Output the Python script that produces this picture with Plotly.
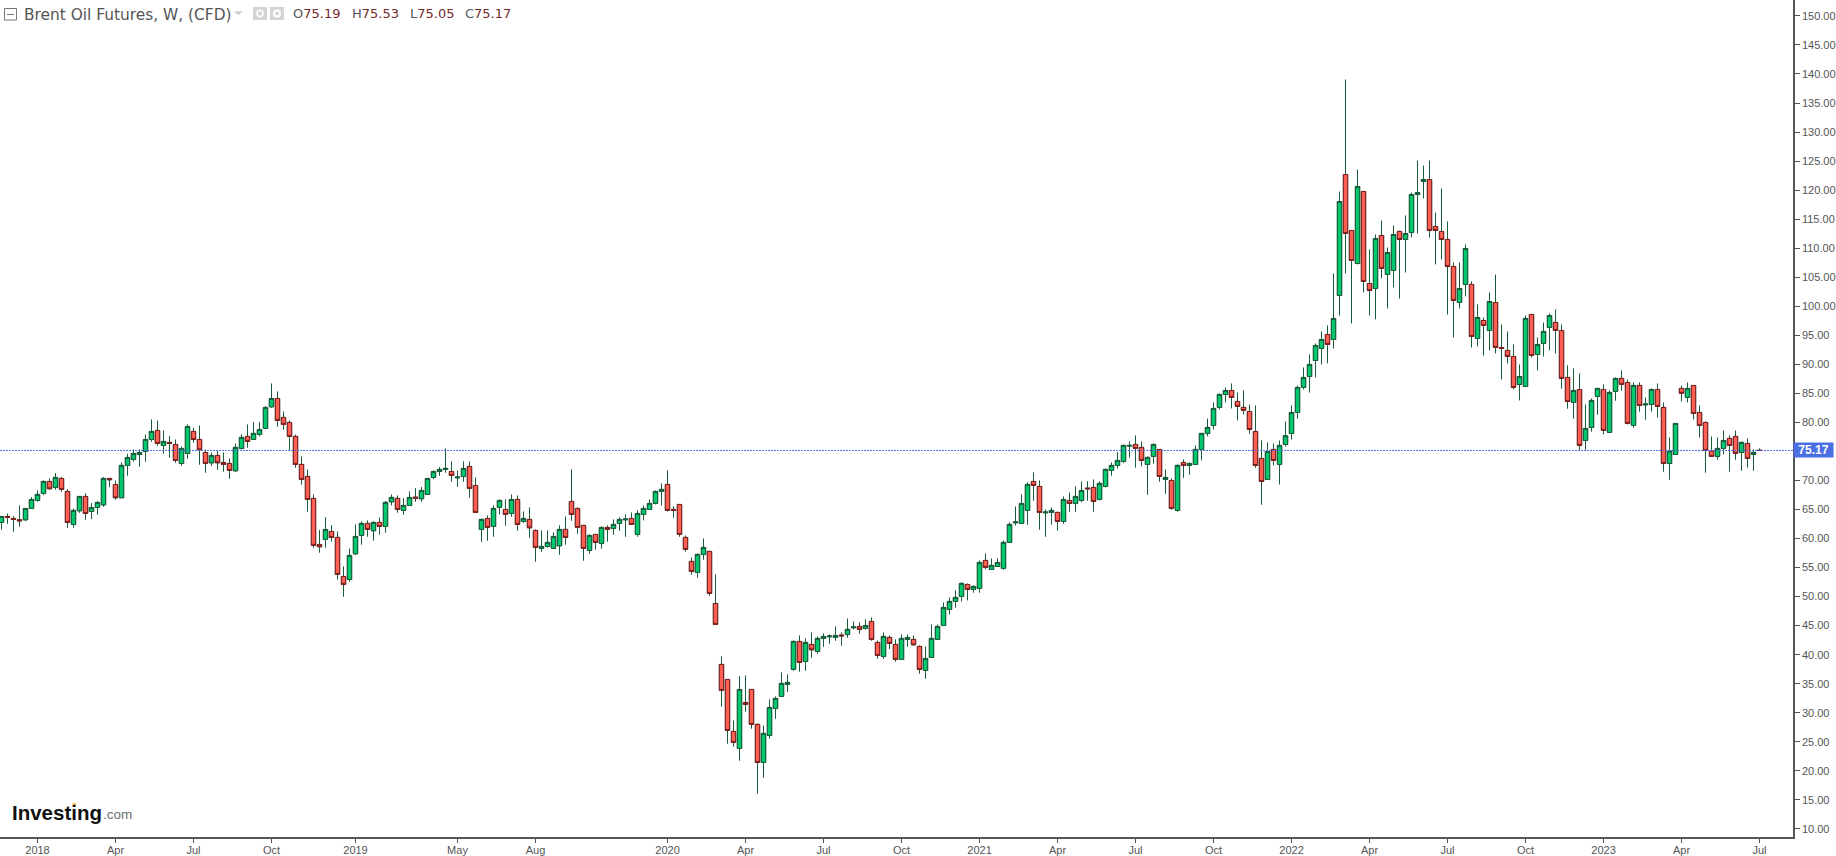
import pandas as pd
import plotly.graph_objects as go

start_week = "2017-11-19"

opens = [
    62.77,63.80,63.46,63.23,63.23,65.18,66.56,67.76,69.83,68.80,
    70.35,68.11,62.43,64.78,67.25,64.66,65.35,65.81,70.35,69.31,
    67.02,72.59,73.62,74.48,75.00,77.06,78.61,76.03,76.55,76.20,
    72.93,74.65,78.44,77.06,74.82,73.04,74.31,73.10,72.93,71.67,
    75.51,77.58,77.06,77.92,78.96,82.69,84.12,80.85,79.99,77.58,
    72.76,70.69,66.90,58.98,59.84,61.22,60.19,53.47,52.95,57.37,
    60.53,62.60,61.34,62.77,62.08,66.33,66.91,64.84,65.70,67.13,
    66.85,67.59,70.52,71.55,71.90,71.55,70.46,70.69,72.42,69.14,
    61.57,63.46,62.08,65.36,65.01,64.32,66.73,62.94,63.29,61.39,
    58.30,58.64,58.30,58.75,61.57,66.39,65.18,62.26,57.95,60.71,
    59.16,61.91,61.74,62.60,63.23,63.46,60.71,64.15,65.01,66.04,
    68.11,69.32,65.01,65.87,60.19,56.06,54.16,57.26,57.78,48.82,
    38.32,35.73,26.78,23.85,31.77,34.01,27.99,21.44,26.09,30.74,
    32.81,34.87,37.46,42.28,38.83,41.76,40.56,42.80,43.08,42.97,
    43.37,43.48,44.63,44.86,44.52,45.72,42.11,39.70,42.97,41.76,
    39.18,42.62,42.62,41.42,37.28,39.52,42.62,45.03,47.79,49.17,
    50.03,52.09,51.23,51.41,56.23,54.68,55.19,54.85,59.33,62.71,
    62.60,64.84,69.83,68.97,64.43,64.49,64.49,62.94,66.56,66.04,
    66.56,68.68,68.80,66.73,68.97,71.73,72.59,73.28,75.92,76.20,
    75.69,72.76,74.14,75.34,70.18,70.00,64.84,73.10,72.59,72.76,
    75.34,78.10,79.48,82.58,84.81,85.50,83.61,82.58,81.88,78.44,
    73.79,70.17,75.34,72.76,76.20,78.09,81.71,86.02,87.91,90.66,
    92.73,95.14,94.28,101.86,122.69,113.05,107.37,119.77,103.92,103.06,
    112.19,105.47,106.16,112.88,111.50,112.71,119.25,121.49,121.83,113.74,
    112.88,111.50,106.85,100.65,103.75,103.75,94.45,97.55,95.83,100.65,
    92.90,92.39,91.35,86.53,86.19,98.59,91.70,93.59,96.35,97.21,
    95.83,87.74,83.44,85.67,76.89,79.13,84.47,85.67,78.27,85.33,
    87.57,86.88,79.48,86.36,83.03,83.09,85.67,82.58,72.93,74.48,
    85.85,84.30,86.36,81.71,79.99,75.06,74.14,75.52,77.24,77.58,
    74.83,76.38,74.48,75.19,
]
highs = [
    63.80,64.32,63.86,65.70,65.18,67.13,68.28,70.00,70.35,71.27,
    70.58,68.51,65.18,67.25,67.82,66.10,66.44,70.58,70.35,70.00,
    73.10,74.59,75.34,75.34,77.92,80.51,80.33,78.61,77.64,77.06,
    75.86,79.65,79.07,79.47,75.34,74.82,75.17,74.82,73.79,76.37,
    77.92,79.65,80.05,80.05,82.80,86.71,85.33,81.88,80.33,77.92,
    74.14,71.90,67.59,61.45,63.69,62.31,61.22,55.19,58.29,62.43,
    62.94,63.12,63.00,63.63,66.45,67.59,67.42,66.96,68.11,68.68,
    68.86,70.35,71.73,72.30,75.52,73.28,71.73,73.28,73.28,70.52,
    63.46,63.98,65.70,66.73,66.73,67.59,67.42,64.67,65.36,61.57,
    61.39,61.39,61.05,62.26,63.81,71.90,65.36,62.26,60.71,60.71,
    62.08,62.26,63.29,63.63,64.15,64.49,64.84,65.70,66.73,68.28,
    69.49,71.73,65.53,65.87,60.53,56.75,57.43,60.02,57.78,53.82,
    39.70,35.73,28.67,36.31,36.42,34.01,28.16,27.81,32.29,32.81,
    36.94,36.60,42.45,43.31,42.80,43.83,43.14,43.66,43.48,44.86,
    43.83,46.24,45.72,45.55,46.07,46.41,42.45,43.83,43.31,42.62,
    43.48,43.48,43.31,41.59,41.42,45.21,45.21,48.99,49.86,51.06,
    52.44,52.27,51.92,56.23,57.43,56.57,56.57,59.67,62.77,65.53,
    67.59,69.66,71.38,70.00,65.01,65.36,64.67,67.25,67.94,68.97,
    69.83,69.89,70.18,69.83,72.07,73.10,74.88,76.20,76.72,77.75,
    76.72,74.14,76.38,75.34,71.90,70.35,72.76,73.62,73.10,76.03,
    78.10,80.68,83.44,84.99,86.02,86.71,85.16,85.50,83.09,82.92,
    76.89,76.54,76.37,76.89,80.16,82.92,86.36,89.46,91.70,93.59,
    95.66,96.69,105.65,119.77,139.05,113.05,123.55,119.77,109.78,112.36,
    114.77,110.12,113.91,113.05,115.63,119.59,125.10,124.24,125.10,116.15,
    120.28,114.60,107.54,107.54,110.64,104.27,100.31,98.07,102.37,105.47,
    96.86,95.66,93.42,89.98,98.41,98.59,94.63,97.21,98.76,99.45,
    96.87,89.81,89.29,88.43,83.09,84.13,85.85,86.54,85.50,87.74,
    88.95,87.40,86.88,86.88,84.30,85.85,86.71,83.44,77.41,79.82,
    86.36,86.88,86.36,82.92,80.17,77.58,77.41,78.61,77.75,78.61,
    76.72,77.24,75.34,75.53,
]
lows = [
    61.51,62.54,61.16,62.02,63.00,65.18,66.33,67.53,68.40,68.40,
    68.05,61.85,61.85,64.43,63.23,63.34,64.09,65.47,68.85,66.67,
    67.02,70.81,73.22,72.36,73.22,76.66,75.97,74.59,73.91,73.04,
    72.53,73.73,76.49,72.70,71.32,72.47,71.84,71.50,70.29,71.50,
    75.34,75.63,77.06,77.58,78.96,82.52,79.24,78.73,75.17,72.18,
    69.26,64.61,58.41,57.55,58.41,59.44,52.90,49.97,52.55,57.20,
    58.93,60.30,59.62,60.65,60.99,65.70,64.44,64.09,65.70,66.33,
    66.33,67.59,70.23,70.81,71.32,69.78,68.91,69.78,67.02,64.49,
    59.44,59.62,60.30,64.15,62.20,63.75,61.34,62.71,60.13,56.00,
    57.72,58.41,58.30,57.20,58.93,63.06,60.82,56.17,57.38,58.07,
    58.24,59.44,60.65,61.34,60.30,62.43,60.30,63.12,65.01,65.87,
    65.70,64.67,63.58,60.30,57.72,53.76,53.24,56.34,50.14,45.21,
    31.03,24.66,24.14,21.73,30.17,27.24,16.05,18.80,25.52,28.96,
    32.81,33.55,37.23,37.06,37.23,39.47,40.15,41.36,41.88,42.39,
    41.53,42.91,44.35,43.60,44.29,42.39,39.29,39.29,40.96,38.78,
    39.18,41.36,41.53,36.71,35.85,39.52,42.62,45.03,46.93,48.08,
    49.17,49.34,50.66,50.66,54.68,54.68,55.19,54.62,59.33,62.26,
    62.60,62.37,66.50,61.51,60.30,62.37,61.34,62.54,64.61,64.61,
    66.22,66.50,64.61,66.56,68.80,70.81,72.07,73.05,73.91,72.19,
    72.42,67.54,72.87,69.78,67.71,64.95,64.61,70.46,70.98,72.76,
    73.45,77.58,78.79,82.23,83.44,82.40,80.34,81.37,78.04,72.18,
    65.81,70.17,72.58,69.31,75.86,77.06,80.62,85.67,85.15,87.74,
    89.98,90.15,92.73,98.41,105.65,97.04,107.20,102.37,98.41,97.72,
    104.79,99.62,103.24,101.34,105.82,111.85,112.53,118.56,111.85,107.20,
    108.06,98.59,94.63,99.62,101.69,92.90,93.08,91.53,92.39,91.87,
    87.39,90.15,85.67,83.78,86.19,91.18,88.94,91.35,92.39,91.87,
    85.79,82.35,80.62,75.17,75.29,78.39,81.31,77.93,78.27,83.72,
    85.45,79.65,79.07,81.83,80.45,81.89,80.85,71.50,70.12,74.48,
    83.61,83.44,80.51,77.41,71.33,74.14,73.56,74.48,71.50,73.56,
    71.67,72.24,71.67,75.05,
]
closes = [
    63.80,63.63,63.29,63.06,65.18,66.73,67.59,69.83,68.57,70.52,
    68.45,62.77,64.84,67.25,64.32,65.35,66.21,70.35,70.12,67.02,
    72.59,73.96,74.65,74.82,77.06,78.44,76.37,76.72,76.37,73.45,
    75.51,79.30,77.06,75.28,72.93,74.31,73.04,72.76,71.72,75.69,
    77.41,76.72,78.10,78.78,82.57,84.12,80.33,79.65,77.58,72.76,
    70.17,66.73,58.81,58.58,61.56,60.19,53.82,52.09,57.09,60.36,
    62.60,61.57,62.77,62.08,66.22,67.08,65.01,65.70,67.08,66.91,
    68.28,70.35,71.55,71.90,72.07,70.87,70.58,72.07,68.63,64.49,
    63.29,61.91,65.18,66.56,64.15,66.73,62.43,63.46,61.85,58.47,
    58.64,59.33,60.36,61.57,60.19,64.15,61.91,58.30,60.53,59.33,
    61.91,61.57,62.43,63.29,63.35,62.43,64.32,65.18,66.04,68.11,
    68.46,64.84,64.84,60.71,58.12,54.33,57.26,58.47,50.54,45.21,
    33.84,26.95,24.89,34.01,31.43,27.99,21.44,26.44,30.91,32.46,
    35.05,35.22,42.28,38.66,42.11,40.84,42.80,43.14,43.20,43.31,
    43.25,44.35,44.75,44.35,45.03,42.62,39.87,43.14,41.93,39.18,
    42.80,42.97,41.70,37.46,39.35,42.80,44.86,48.13,49.17,49.86,
    52.27,51.23,51.75,55.88,55.02,55.37,55.88,59.33,62.43,62.83,
    66.04,69.32,69.14,64.49,64.55,64.84,62.94,66.73,66.04,67.25,
    68.28,68.57,66.39,69.49,71.90,72.59,73.45,76.03,76.03,75.52,
    73.45,73.97,76.20,70.69,70.52,65.18,72.59,72.59,72.93,75.34,
    78.10,79.13,82.40,84.81,85.50,84.30,82.75,82.06,78.78,72.58,
    69.83,74.99,73.44,76.03,77.69,81.71,86.02,87.74,89.98,93.25,
    94.28,93.42,97.90,118.04,112.53,107.88,120.63,104.27,102.72,111.67,
    106.51,109.26,112.36,111.50,112.53,119.25,119.59,121.83,113.05,113.05,
    111.50,106.85,101.00,103.06,109.95,94.80,98.07,96.69,100.82,92.90,
    92.73,91.35,86.02,87.91,97.90,91.53,93.42,95.66,98.41,95.83,
    87.57,83.61,85.50,76.03,78.96,83.78,85.85,78.61,85.16,87.57,
    86.54,79.82,86.36,82.92,83.15,85.67,82.75,72.93,75.06,79.82,
    84.99,85.85,81.54,79.48,75.17,74.14,75.52,76.89,76.03,74.65,
    76.55,73.79,74.83,75.17,
]

x_tick_dates = [
    "2017-12-31","2018-04-01","2018-07-01","2018-09-30","2019-01-06","2019-05-05","2019-08-04",
    "2020-01-05","2020-04-05","2020-07-05","2020-10-04","2021-01-03","2021-04-04","2021-07-04",
    "2021-10-03","2022-01-02","2022-04-03","2022-07-03","2022-10-02","2023-01-01","2023-04-02","2023-07-02",
]
x_tick_labels = [
    "2018","Apr","Jul","Oct","2019","May","Aug","2020","Apr","Jul","Oct","2021","Apr","Jul",
    "Oct","2022","Apr","Jul","Oct","2023","Apr","Jul",
]
y_ticks = list(range(10, 155, 5))
last_price = 75.17
title_text = "Brent Oil Futures, W, (CFD)"
ohlc_labels = [("O", "75.19"), ("H", "75.53"), ("L", "75.05"), ("C", "75.17")]

UP, DOWN = "#00c86c", "#ff5f52"
UP_EDGE, DOWN_EDGE, WICK = "#1a5c3c", "#7c1f1f", "#1a5c3c"
AXIS = "#555555"
BLUE = "#4a6fe3"
FONT = "Liberation Sans, Arial, sans-serif"

W, H = 1836, 856
PL_W, PL_H = 1793, 837


def px(x):
    return x / PL_W


def py(y):
    return 1 - y / PL_H


dates = pd.date_range(start_week, periods=len(opens), freq="7D")
body_top = [max(o, c) for o, c in zip(opens, closes)]
body_bot = [min(o, c) for o, c in zip(opens, closes)]

fig = go.Figure()
# wicks: dark green on every candle
fig.add_trace(go.Candlestick(
    x=dates, open=opens, high=highs, low=lows, close=closes,
    increasing=dict(line=dict(color=WICK, width=1), fillcolor=UP),
    decreasing=dict(line=dict(color=WICK, width=1), fillcolor=DOWN),
    whiskerwidth=0, showlegend=False, hoverinfo="skip",
))
# bodies: own edge colour per direction
fig.add_trace(go.Candlestick(
    x=dates, open=opens, high=body_top, low=body_bot, close=closes,
    increasing=dict(line=dict(color=UP_EDGE, width=1), fillcolor=UP),
    decreasing=dict(line=dict(color=DOWN_EDGE, width=1), fillcolor=DOWN),
    whiskerwidth=0, showlegend=False,
))

shapes = [
    dict(type="line", xref="paper", x0=0, x1=1, yref="y", y0=last_price, y1=last_price,
         line=dict(color=BLUE, width=1, dash="2px,1px"), layer="above"),
    # collapse box
    dict(type="rect", xref="paper", yref="paper", x0=px(4.5), x1=px(16.5), y0=py(20), y1=py(8.5),
         line=dict(color="#777777", width=1), fillcolor="white"),
    dict(type="line", xref="paper", yref="paper", x0=px(7), x1=px(14), y0=py(14.5), y1=py(14.5),
         line=dict(color="#777777", width=1)),
    # eye / gear buttons
    dict(type="rect", xref="paper", yref="paper", x0=px(253), x1=px(267), y0=py(20), y1=py(7),
         line=dict(width=0), fillcolor="#d4d4d4"),
    dict(type="circle", xref="paper", yref="paper", x0=px(257), x1=px(263), y0=py(16.5), y1=py(10.5),
         line=dict(color="white", width=1.5), fillcolor="#d4d4d4"),
    dict(type="rect", xref="paper", yref="paper", x0=px(270), x1=px(284), y0=py(20), y1=py(7),
         line=dict(width=0), fillcolor="#d4d4d4"),
    dict(type="circle", xref="paper", yref="paper", x0=px(274), x1=px(280), y0=py(16.5), y1=py(10.5),
         line=dict(color="white", width=2), fillcolor="#d4d4d4"),
    # dropdown arrow
    dict(type="path", xref="paper", yref="paper",
         path=f"M {px(234)} {py(11.5)} L {px(243)} {py(11.5)} L {px(238.5)} {py(15)} Z",
         line=dict(width=0), fillcolor="#c8c8c8"),
    # logo dot
    dict(type="circle", xref="paper", yref="paper", x0=px(72.5), x1=px(76), y0=py(806.5), y1=py(803),
         line=dict(width=0), fillcolor="#f5a623"),
]

annotations = [
    dict(text=title_text, xref="paper", yref="paper", x=px(22), y=py(14.5), xanchor="left", yanchor="middle",
         showarrow=False, font=dict(family="DejaVu Sans", size=15.4, color="#555555")),
    dict(text="<b>75.17</b>", xref="paper", yref="y", x=1, y=last_price, xanchor="left", yanchor="middle",
         showarrow=False, bgcolor=BLUE, width=39, height=14, borderpad=0,
         font=dict(family=FONT, size=12, color="white")),
    dict(text="<b>Investing</b>", xref="paper", yref="paper", x=px(10), y=py(812), xanchor="left", yanchor="middle",
         showarrow=False, font=dict(family=FONT, size=20.5, color="#111111")),
    dict(text=".com", xref="paper", yref="paper", x=px(101), y=py(814), xanchor="left", yanchor="middle",
         showarrow=False, font=dict(family=FONT, size=13.5, color="#6e6e6e")),
]
ohlc_x = [291, 350, 408, 463]
for (lab, val), x0 in zip(ohlc_labels, ohlc_x):
    annotations.append(dict(
        text=f'{lab}<span style="color:#722a2a">{val}</span>',
        xref="paper", yref="paper", x=px(x0), y=py(13.5), xanchor="left", yanchor="middle",
        showarrow=False, font=dict(family="DejaVu Sans", size=13, color="#555555"),
    ))

fig.update_layout(
    width=W, height=H,
    margin=dict(l=0, r=W - PL_W, t=0, b=H - PL_H, pad=0),
    paper_bgcolor="white", plot_bgcolor="white",
    boxgap=0.15, boxgroupgap=0.15,
    showlegend=False,
    shapes=shapes, annotations=annotations,
    xaxis=dict(
        type="date",
        range=["2017-11-17 06:00", "2023-08-10 01:30"],
        rangeslider=dict(visible=False),
        tickmode="array", tickvals=x_tick_dates, ticktext=x_tick_labels,
        ticks="outside", ticklen=4, tickwidth=1, tickcolor=AXIS,
        ticklabelstandoff=-2,
        showgrid=False, zeroline=False,
        showline=True, linecolor=AXIS, linewidth=1.5,
        tickfont=dict(family=FONT, size=11, color="#555555"),
    ),
    yaxis=dict(
        side="right",
        range=[8.6, 152.74],
        tickmode="array", tickvals=y_ticks, ticktext=[f"{v:.2f}" for v in y_ticks],
        ticks="outside", ticklen=5, tickwidth=1, tickcolor=AXIS,
        showgrid=False, zeroline=False,
        showline=True, linecolor=AXIS, linewidth=1.5,
        tickfont=dict(family=FONT, size=11, color="#555555"),
    ),
)

fig.write_html("out.html", config=dict(displayModeBar=False),
               post_script="document.body.style.margin='0';document.body.style.overflow='hidden';")
